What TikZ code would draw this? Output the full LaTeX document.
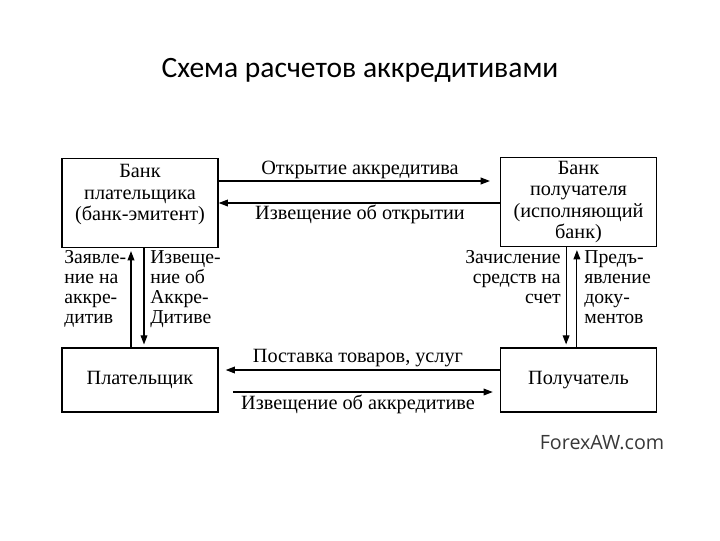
\documentclass[tikz,border=0pt]{standalone}
\usepackage{fontspec}
\setmainfont{Liberation Serif}
\newfontfamily\titlefont{Carlito}
\newfontfamily\markfont{Open Sans}
\usepackage{tikz}
\usetikzlibrary{arrows.meta,positioning,calc}

\begin{document}
\begin{tikzpicture}[x=0.025cm, y=-0.025cm,
    bankbox/.style={rectangle, draw=black, line width=1pt,
                minimum width=3.9cm, minimum height=2.23cm,
                font=\fontsize{14.4}{15}\selectfont, align=center, inner sep=0pt},
    partybox/.style={rectangle, draw=black, line width=1pt,
                minimum width=3.9cm, minimum height=1.6cm,
                font=\fontsize{14.4}{15}\selectfont, align=center, inner sep=0pt},
    flow/.style={draw=black, line width=0.8pt,
                -{Triangle[length=2.3mm,width=1.7mm]}},
    flowtext/.style={font=\fontsize{14.4}{15}\selectfont, inner sep=0pt},
    sidetext/.style={font=\fontsize{14}{14.3}\selectfont, inner sep=0pt},
]

\useasboundingbox (0,0) rectangle (720,540);

\node[font=\titlefont\fontsize{21}{24}\selectfont] (title) at (360, 70)
    {Схема расчетов аккредитивами};

% banks
\node[bankbox] (payerbank) at (140, 203)
    {Банк\\плательщика\\(банк-эмитент)\\~};
\node[bankbox] (payeebank) at (578.5, 202)
    {Банк\\получателя\\(исполняющий\\банк)};

% parties
\node[partybox] (payer) at (140, 380) {Плательщик};
\node[partybox] (payee) at (578.5, 380) {Получатель};

% top flows
\draw[flow, shorten >=7pt] ([yshift=0.55cm]payerbank.east)
    -- ([yshift=0.55cm]payerbank.east -| payeebank.west);
\draw[flow] (payeebank.west |- payerbank.east)
    -- (payerbank.east);
\node[flowtext] (open) at (360, 170) {Открытие аккредитива};
\node[flowtext] (notice) at (360, 214) {Извещение об открытии};

% bottom flows
\draw[flow, shorten >=5pt] ([yshift=0.25cm]payee.west)
    -- ([yshift=0.25cm]payee.west -| payer.east);
\draw[flow, shorten >=5pt] ([yshift=-0.3cm,xshift=10pt]payer.east)
    -- ([yshift=-0.3cm]payer.east -| payee.west);
\node[flowtext] (goods) at (358, 358) {Поставка товаров, услуг};
\node[flowtext] (advice) at (358, 404) {Извещение об аккредитиве};

% left verticals
\draw[flow, shorten >=2pt] ([xshift=-0.225cm]payer.north)
    -- ([xshift=-0.225cm]payerbank.south);
\draw[flow, shorten >=2pt] ([xshift=0.1cm]payerbank.south)
    -- ([xshift=0.1cm]payer.north);
\node[sidetext, anchor=north west, align=left] (apply) at (64, 250)
    {Заявле-\\ние на\\аккре-\\дитив};
\node[sidetext, anchor=north west, align=left] (inform) at (150, 250)
    {Извеще-\\ние об\\Аккре-\\Дитиве};

% right verticals
\draw[flow, shorten >=2pt] ([xshift=-0.31cm]payeebank.south)
    -- ([xshift=-0.31cm]payee.north);
\draw[flow, shorten >=2pt] ([xshift=-0.04cm]payee.north)
    -- ([xshift=-0.04cm]payeebank.south);
\node[sidetext, anchor=north east, align=right] (credit) at (561, 250)
    {Зачисление\\средств на\\счет};
\node[sidetext, anchor=north west, align=left] (present) at (584, 250)
    {Предъ-\\явление\\доку-\\ментов};

\node[font=\markfont\fontsize{14}{16}\selectfont, text=black!78] (site) at (602, 443)
    {ForexAW.com};

\end{tikzpicture}
\end{document}
